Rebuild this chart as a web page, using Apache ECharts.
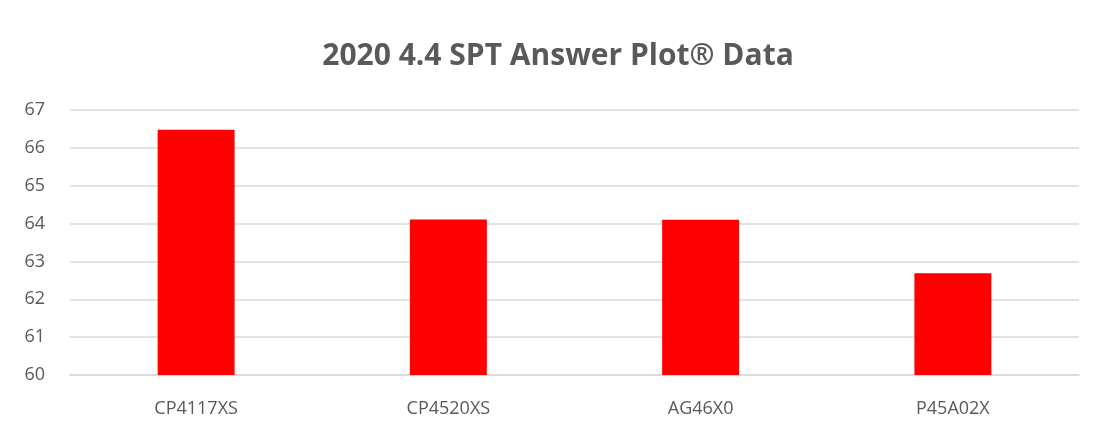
<!DOCTYPE html>
<html lang="en">
<head>
    <meta charset="UTF-8">
    <title>2020 4.4 SPT Answer Plot Data</title>
    <script src="https://cdn.jsdelivr.net/npm/echarts@6/dist/echarts.min.js"></script>
    <style>
        html, body { margin: 0; padding: 0; background: #fff; }
        #chart { width: 1098px; height: 434px; }
    </style>
</head>
<body>
    <div id="chart"></div>

    <script>
        // data
        const categories = ['CP4117XS', 'CP4520XS', 'AG46X0', 'P45A02X'];
        const scores = [66.48, 64.11, 64.10, 62.69];

        const chart = echarts.init(document.getElementById('chart'));

        const option = {
            animation: false,
            title: {
                text: '2020 4.4 SPT Answer Plot® Data',
                left: 553,
                textAlign: 'center',
                top: 36,
                textStyle: {
                    fontFamily: 'Open Sans',
                    fontWeight: 'bold',
                    fontSize: 30,
                    color: '#595959'
                }
            },
            grid: {
                left: 70,
                right: 19,
                top: 110,
                bottom: 59
            },
            xAxis: {
                type: 'category',
                data: categories,
                axisTick: { show: false },
                axisLine: { lineStyle: { color: '#d9d9d9', width: 1.5 } },
                axisLabel: {
                    margin: 25,
                    fontFamily: 'Open Sans',
                    fontSize: 18,
                    color: '#595959'
                }
            },
            yAxis: {
                type: 'value',
                min: 60,
                max: 67,
                interval: 1,
                axisLine: { show: false },
                axisTick: { show: false },
                splitLine: { lineStyle: { color: '#d9d9d9', width: 1.5 } },
                axisLabel: {
                    margin: 25,
                    fontFamily: 'Open Sans',
                    fontSize: 18,
                    color: '#595959'
                }
            },
            series: [{
                type: 'bar',
                data: scores,
                barWidth: '30.5%',
                itemStyle: { color: '#ff0000' }
            }]
        };

        chart.setOption(option);
    </script>
</body>
</html>
